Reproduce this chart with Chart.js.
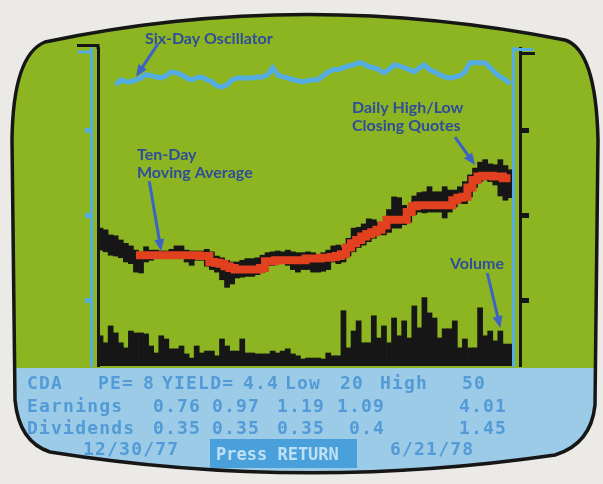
<!DOCTYPE html>
<html>
<head>
<meta charset="utf-8">
<script src="https://cdn.jsdelivr.net/npm/chart.js@4.4.1/dist/chart.umd.min.js"></script>
<style>
  html, body { margin: 0; padding: 0; background: #ebeae6; }
</style>
</head>
<body>
<canvas id="chart" width="603" height="484"></canvas>
<script>
// trading days shown, 12/30/77 .. 6/21/78
const days = Array.from({ length: 82 }, (_, i) => i + 1);

const highs = [
  28.5, 28.3, 27.7, 27.6, 27.1, 26.7, 26.4, 25.9, 25.7, 26.3,
  25.9, 25.9, 25.8, 25.8, 26.0, 26.4, 26.4, 25.9, 25.8, 25.8,
  25.8, 26.0, 25.7, 25.2, 25.0, 24.7, 24.5, 24.5, 24.7, 24.9,
  24.9, 25.0, 25.3, 25.6, 25.7, 25.8, 25.7, 25.9, 25.7, 25.6,
  25.6, 25.7, 25.6, 25.4, 25.6, 25.9, 26.4, 26.5, 26.2, 27.3,
  28.5, 28.6, 29.0, 29.6, 29.5, 29.2, 29.2, 30.7, 32.2, 32.1,
  31.2, 30.7, 32.3, 32.7, 32.8, 33.4, 32.8, 32.8, 33.4, 33.0,
  33.0, 33.4, 34.0, 34.8, 35.6, 36.3, 36.6, 36.1, 36.0, 36.6,
  35.9, 35.4
];
const lows = [
  25.9, 25.7, 25.3, 25.2, 25.0, 24.5, 24.3, 23.3, 23.2, 24.5,
  24.7, 24.9, 24.9, 24.9, 24.9, 25.0, 25.0, 24.5, 24.1, 24.7,
  24.7, 24.0, 23.6, 23.3, 22.4, 21.5, 21.9, 22.6, 22.7, 22.8,
  22.8, 23.0, 23.3, 24.1, 24.1, 24.3, 24.3, 24.1, 23.6, 23.3,
  23.6, 23.6, 23.3, 23.3, 23.4, 23.6, 24.5, 24.3, 24.5, 25.2,
  25.7, 26.2, 26.5, 26.9, 27.3, 27.8, 27.7, 28.0, 28.5, 28.5,
  28.9, 29.2, 30.1, 30.4, 30.3, 30.4, 30.4, 30.4, 29.7, 30.4,
  31.0, 31.4, 31.4, 32.2, 33.3, 34.0, 34.2, 34.0, 33.6, 32.3,
  31.8, 32.1
];
const movingAvg = [
  null, null, null, null, null, null, null, 25.3, 25.3, 25.3,
  25.3, 25.3, 25.3, 25.3, 25.3, 25.3, 25.3, 25.3, 25.3, 25.3,
  25.2, 25.2, 24.5, 24.4, 24.3, 24.0, 23.8, 23.6, 23.6, 23.6,
  23.6, 23.6, 23.8, 24.6, 24.6, 24.7, 24.7, 24.7, 24.7, 24.7,
  24.7, 24.9, 24.9, 24.9, 25.0, 25.0, 25.1, 25.2, 25.4, 26.2,
  26.7, 27.1, 27.5, 27.8, 28.0, 28.3, 28.8, 29.5, 29.5, 29.5,
  29.5, 30.4, 31.1, 31.2, 31.2, 31.2, 31.2, 31.2, 31.2, 31.2,
  31.8, 32.1, 32.2, 33.3, 34.2, 34.6, 34.7, 34.7, 34.6, 34.6,
  34.4, 34.4
];
const volume = [
  9.5, 7.3, 12.6, 10.4, 7.3, 5.7, 11.0, 10.4, 10.4, 10.1,
  6.3, 4.1, 9.5, 8.5, 5.4, 5.4, 6.3, 3.8, 2.5, 6.3,
  4.1, 4.7, 4.7, 3.2, 8.5, 6.3, 4.7, 4.7, 8.5, 4.1,
  4.1, 3.8, 3.8, 3.8, 4.7, 4.1, 4.7, 5.4, 3.8, 3.2,
  2.2, 2.5, 2.5, 2.5, 2.2, 4.1, 3.2, 3.2, 17.4, 5.7,
  11.0, 14.2, 7.3, 7.3, 15.8, 8.8, 12.6, 7.3, 15.1, 9.5,
  14.2, 8.8, 18.9, 12.0, 21.5, 16.7, 15.1, 8.8, 11.7, 11.7,
  14.2, 5.7, 8.5, 5.7, 5.7, 18.3, 9.5, 11.0, 7.9, 11.0,
  6.9, 6.9
];
const oscillator = [
  null, null, null, -1.6, 0, -0.6, -0.6, 0, 0.6, 1.6,
  1.3, 0.9, 0.6, 1.3, 2.5, 2.2, 1.6, 0.6, 0, 0.6,
  0.9, 0, -0.6, -1.9, -2.2, -1.6, 0, 0.6, 0.6, 0.6,
  0.6, 0.9, 0.9, 1.6, 3.8, 1.6, 0.9, 0.6, 0, -0.3,
  -0.6, -0.3, 0, 0, 1.3, 2.5, 3.2, 3.2, 3.8, 4.4,
  4.7, 5.4, 5.0, 4.1, 3.8, 3.2, 2.2, 3.2, 4.7, 4.4,
  3.8, 3.2, 2.5, 3.8, 4.7, 3.2, 2.5, 1.6, 0.9, 0.6,
  0.9, 1.3, 2.5, 5.4, 5.4, 5.4, 5.4, 3.8, 2.2, 0.9,
  0, -1.3
];
const priceTicks = [20, 30, 40];

// quote panel
const ticker = 'CDA';
const peRatio = 8;
const yieldPct = 4.4;
const lowPrice = 20;
const highPrice = 50;
const earnings = [0.76, 0.97, 1.19, 1.09];
const earningsTotal = 4.01;
const dividends = [0.35, 0.35, 0.35, 0.4];
const dividendsTotal = 1.45;
const startDate = '12/30/77';
const endDate = '6/21/78';

const PAPER = '#ebeae6';
const GREEN = '#8cb521';
const PANEL = '#9ccbe8';
const INK = '#161616';
const RED = '#e2411f';
const CYAN = '#55ace2';
const NOTE = '#2f4d9a';
const NOTE_ARROW = '#3e63c6';
const PANEL_TEXT = '#529bd6';
const BOX = '#4aa0da';
const BOX_TEXT = '#bde0f5';

function screenPath(ctx) {
  ctx.beginPath();
  ctx.moveTo(12, 140);
  ctx.quadraticCurveTo(13, 55, 45, 42);
  ctx.quadraticCurveTo(300, -12, 565, 40);
  ctx.quadraticCurveTo(596, 50, 598, 140);
  ctx.lineTo(595, 405);
  ctx.quadraticCurveTo(591, 444, 555, 455);
  ctx.quadraticCurveTo(300, 492, 50, 452);
  ctx.quadraticCurveTo(19, 442, 15, 400);
  ctx.closePath();
}

function arrow(ctx, x1, y1, x2, y2) {
  const a = Math.atan2(y2 - y1, x2 - x1);
  const c = Math.cos(a), s = Math.sin(a);
  ctx.beginPath();
  ctx.moveTo(x1, y1);
  ctx.lineTo(x2 - 8 * c, y2 - 8 * s);
  ctx.stroke();
  ctx.beginPath();
  ctx.moveTo(x2, y2);
  ctx.lineTo(x2 - 12 * c + 5 * s, y2 - 12 * s - 5 * c);
  ctx.lineTo(x2 - 12 * c - 5 * s, y2 - 12 * s + 5 * c);
  ctx.closePath();
  ctx.fill();
}

const screenPlugin = {
  id: 'screen',
  beforeDraw(chart) {
    const ctx = chart.ctx;
    ctx.save();
    ctx.fillStyle = PAPER;
    ctx.fillRect(0, 0, chart.width, chart.height);
    screenPath(ctx);
    ctx.fillStyle = GREEN;
    ctx.fill();
    ctx.clip();
    ctx.fillStyle = PANEL;
    ctx.fillRect(0, chart.chartArea.bottom + 2, chart.width, 200);
    ctx.restore();
    ctx.save();
    screenPath(ctx);
    ctx.lineWidth = 3.5;
    ctx.strokeStyle = INK;
    ctx.stroke();
    ctx.restore();
  },
  afterDraw(chart) {
    const ctx = chart.ctx;
    const { x, yPrice, yVol, yOsc, yLeft, yLeftRule, yRightRule } = chart.scales;
    ctx.save();

    // bracket hooks on top of the rules
    ctx.lineWidth = 3;
    ctx.strokeStyle = CYAN;
    ctx.beginPath();
    ctx.moveTo(yLeft.right + 1, 52);
    ctx.lineTo(78, 52);
    ctx.stroke();
    ctx.strokeStyle = INK;
    ctx.beginPath();
    ctx.moveTo(yLeftRule.right, 49);
    ctx.lineTo(yLeftRule.right, 45.5);
    ctx.lineTo(77, 45.5);
    ctx.stroke();
    ctx.strokeStyle = CYAN;
    ctx.beginPath();
    ctx.moveTo(yRightRule.left - 1, 49.5);
    ctx.lineTo(533, 49.5);
    ctx.stroke();
    ctx.strokeStyle = INK;
    ctx.beginPath();
    ctx.moveTo(yPrice.left - 1, 53.5);
    ctx.lineTo(535, 53.5);
    ctx.stroke();

    // annotations
    ctx.fillStyle = NOTE;
    ctx.font = 'bold 16px Lato';
    ctx.textBaseline = 'alphabetic';
    ctx.fillText('Six-Day Oscillator', 145, 44);
    ctx.fillText('Ten-Day', 137, 160);
    ctx.fillText('Moving Average', 137, 178);
    ctx.fillText('Daily High/Low', 352, 113);
    ctx.fillText('Closing Quotes', 352, 131);
    ctx.fillText('Volume', 450, 269);

    ctx.strokeStyle = NOTE_ARROW;
    ctx.fillStyle = NOTE_ARROW;
    ctx.lineWidth = 3;
    let hx = x.getPixelForValue(7), hy = yOsc.getPixelForValue(oscillator[7]) - 3;
    arrow(ctx, hx + 22, hy - 33, hx, hy);
    hx = x.getPixelForValue(12); hy = yPrice.getPixelForValue(movingAvg[12]) - 4;
    arrow(ctx, hx - 12, hy - 70, hx, hy);
    hx = x.getPixelForValue(74); hy = yPrice.getPixelForValue(highs[74]) - 3;
    arrow(ctx, hx - 20, hy - 28, hx, hy);
    hx = x.getPixelForValue(79); hy = yVol.getPixelForValue(volume[79]) - 3;
    arrow(ctx, hx - 13, hy - 55, hx, hy);

    // quote panel text
    ctx.font = 'bold 18px "DejaVu Sans Mono"';
    ctx.letterSpacing = '1.2px';
    ctx.fillStyle = PANEL_TEXT;
    const cols = [153, 212, 277, 337];
    const row = (label, vals, total, y) => {
      ctx.fillText(label, 27, y);
      vals.forEach((v, i) => ctx.fillText(String(v).padStart(4, ' '), cols[i], y));
      ctx.fillText(String(total), 459, y);
    };
    ctx.fillText(ticker, 27, 389);
    ctx.fillText('PE=', 98, 389);
    ctx.fillText(String(peRatio), 143, 389);
    ctx.fillText('YIELD=', 162, 389);
    ctx.fillText(String(yieldPct), 243, 389);
    ctx.fillText('Low', 285, 389);
    ctx.fillText(String(lowPrice), 340, 389);
    ctx.fillText('High', 380, 389);
    ctx.fillText(String(highPrice), 462, 389);
    row('Earnings', earnings, earningsTotal, 412);
    row('Dividends', dividends, dividendsTotal, 434);
    ctx.fillText(startDate, 83, 455);
    ctx.fillText(endDate, 390, 455);
    ctx.fillStyle = BOX;
    ctx.fillRect(210, 439, 147, 29);
    ctx.fillStyle = BOX_TEXT;
    ctx.font = 'bold 17px "DejaVu Sans Mono"';
    ctx.letterSpacing = '0px';
    ctx.fillText('Press RETURN', 216, 460);
    ctx.restore();
  }
};

const ruleAxis = (position, weight, color, tickLen, tickColor, tickWidth) => ({
  position,
  weight,
  min: 12.2,
  max: 49.8,
  afterBuildTicks: s => { s.ticks = priceTicks.map(v => ({ value: v })); },
  ticks: { display: false },
  grid: { drawOnChartArea: false, drawTicks: true, tickLength: tickLen, color: tickColor, tickWidth },
  border: { color, width: 3, z: 1 }
});

new Chart(document.getElementById('chart'), {
  type: 'bar',
  data: {
    labels: days,
    datasets: [
      {
        type: 'line',
        label: 'Ten-Day Moving Average',
        data: movingAvg,
        yAxisID: 'yPrice',
        borderColor: RED,
        borderWidth: 8,
        borderCapStyle: 'butt',
        borderJoinStyle: 'miter',
        stepped: 'middle',
        pointRadius: 0,
        order: 0
      },
      {
        type: 'line',
        label: 'Six-Day Oscillator',
        data: oscillator,
        yAxisID: 'yOsc',
        borderColor: CYAN,
        borderWidth: 5,
        pointRadius: 0,
        tension: 0,
        order: 1
      },
      {
        label: 'Daily High/Low',
        data: highs.map((h, i) => [lows[i], h]),
        yAxisID: 'yPrice',
        backgroundColor: INK,
        grouped: false,
        barPercentage: 1,
        categoryPercentage: 1,
        order: 2
      },
      {
        label: 'Volume',
        data: volume,
        yAxisID: 'yVol',
        backgroundColor: INK,
        grouped: false,
        barPercentage: 1,
        categoryPercentage: 1,
        order: 2
      }
    ]
  },
  options: {
    responsive: false,
    animation: false,
    layout: { padding: { left: 85, right: 74, top: 48, bottom: 118 } },
    plugins: { legend: { display: false }, tooltip: { enabled: false } },
    scales: {
      x: { display: false, offset: true },
      yPrice: ruleAxis('right', 1, INK, 9, INK, 5),
      yRightRule: ruleAxis('right', 0, CYAN, 7, 'transparent', 1),
      yLeftRule: ruleAxis('left', 0, INK, 7, 'transparent', 1),
      yLeft: ruleAxis('left', 1, CYAN, 6, CYAN, 5),
      yVol: { display: false, min: 0, max: 100 },
      yOsc: { display: false, min: -90, max: 10 }
    }
  },
  plugins: [screenPlugin]
});
</script>
</body>
</html>
